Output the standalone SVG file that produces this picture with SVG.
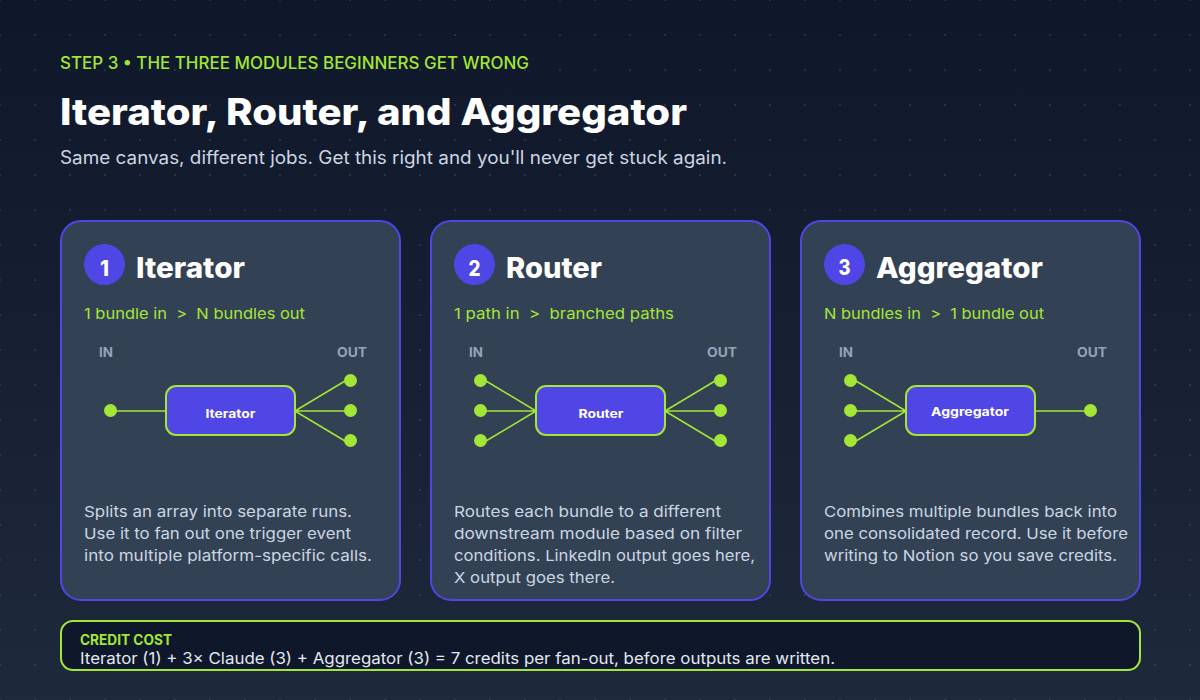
<svg xmlns="http://www.w3.org/2000/svg" width="1200" height="700" viewBox="0 0 1200 700">
<defs>
<linearGradient id="bg" x1="0" y1="0" x2="0" y2="1"><stop offset="0" stop-color="#0f172a"/><stop offset="1" stop-color="#1e293b"/></linearGradient>
<pattern id="grid" width="35" height="35" patternUnits="userSpaceOnUse"><circle cx="0" cy="0" r="1" fill="#94a3b8" fill-opacity=".22"/><circle cx="35" cy="0" r="1" fill="#94a3b8" fill-opacity=".22"/><circle cx="0" cy="35" r="1" fill="#94a3b8" fill-opacity=".22"/><circle cx="35" cy="35" r="1" fill="#94a3b8" fill-opacity=".22"/></pattern>
</defs>
<style>
text{font-family:"Inter","Noto Sans",sans-serif}
.card{fill:#334155;stroke:#4f46e5;stroke-width:2}
.badge{fill:#4f46e5}
.num{font-size:21px;font-weight:800;fill:#fff;text-anchor:middle}
.head{font-size:28px;font-weight:800;fill:#fff}
.sub{font-size:15px;fill:#a3e635;white-space:pre}
.io{font-size:13px;font-weight:700;fill:#94a3b8}
.mod{fill:#4f46e5;stroke:#a3e635;stroke-width:2}
.modt{font-size:12px;font-weight:700;fill:#fff}
.dot{fill:#a3e635}
.desc{font-size:15px;fill:#cbd5e1}
.wire{stroke:#a3e635;stroke-width:1.5;fill:none}
</style>
<rect width="1200" height="700" fill="url(#bg)"/>
<rect width="1200" height="700" fill="url(#grid)"/>
<g id="header">
<text x="60" y="69" font-size="17" font-weight="500" fill="#a3e635" textLength="469" lengthAdjust="spacingAndGlyphs">STEP 3 • THE THREE MODULES BEGINNERS GET WRONG</text>
<text x="60" y="125" font-size="37" font-weight="800" fill="#fff" textLength="627" lengthAdjust="spacingAndGlyphs">Iterator, Router, and Aggregator</text>
<text x="60" y="164" font-size="18" fill="#cbd5e1" textLength="667" lengthAdjust="spacingAndGlyphs">Same canvas, different jobs. Get this right and you'll never get stuck again.</text>
</g>
<g id="card-iterator">
<rect class="card" x="61" y="221" width="339" height="379" rx="20"/>
<circle class="badge" cx="104.500" cy="264.500" r="20.500"/>
<text class="num" x="104.500" y="276" textLength="9" lengthAdjust="spacingAndGlyphs">1</text>
<text class="head" x="136" y="278" textLength="109" lengthAdjust="spacingAndGlyphs">Iterator</text>
<text class="sub" x="84" y="319" textLength="221" lengthAdjust="spacingAndGlyphs">1 bundle in  &gt;  N bundles out</text>
<text class="io" x="99" y="357" textLength="14" lengthAdjust="spacingAndGlyphs">IN</text>
<text class="io" x="337" y="357" textLength="30" lengthAdjust="spacingAndGlyphs">OUT</text>
<rect class="mod" x="166" y="386" width="129" height="49" rx="10"/>
<text class="modt" x="205.500" y="418" textLength="50" lengthAdjust="spacingAndGlyphs">Iterator</text>
<circle class="dot" cx="110.500" cy="410.500" r="6.500"/>
<circle class="dot" cx="350.500" cy="380.500" r="6.500"/>
<circle class="dot" cx="350.500" cy="410.500" r="6.500"/>
<circle class="dot" cx="350.500" cy="440.500" r="6.500"/>
<text class="desc" x="84" y="517" textLength="268" lengthAdjust="spacingAndGlyphs">Splits an array into separate runs.</text>
<text class="desc" x="84" y="539" textLength="267" lengthAdjust="spacingAndGlyphs">Use it to fan out one trigger event</text>
<text class="desc" x="84" y="561" textLength="288" lengthAdjust="spacingAndGlyphs">into multiple platform-specific calls.</text>
</g>
<g id="card-router">
<rect class="card" x="431" y="221" width="339" height="379" rx="20"/>
<circle class="badge" cx="474.500" cy="264.500" r="20.500"/>
<text class="num" x="474.500" y="276" textLength="12" lengthAdjust="spacingAndGlyphs">2</text>
<text class="head" x="506" y="278" textLength="96" lengthAdjust="spacingAndGlyphs">Router</text>
<text class="sub" x="454" y="319" textLength="220" lengthAdjust="spacingAndGlyphs">1 path in  &gt;  branched paths</text>
<text class="io" x="469" y="357" textLength="14" lengthAdjust="spacingAndGlyphs">IN</text>
<text class="io" x="707" y="357" textLength="30" lengthAdjust="spacingAndGlyphs">OUT</text>
<rect class="mod" x="536" y="386" width="129" height="49" rx="10"/>
<text class="modt" x="578.500" y="418" textLength="45" lengthAdjust="spacingAndGlyphs">Router</text>
<circle class="dot" cx="480.500" cy="380.500" r="6.500"/>
<circle class="dot" cx="480.500" cy="410.500" r="6.500"/>
<circle class="dot" cx="480.500" cy="440.500" r="6.500"/>
<circle class="dot" cx="720.500" cy="380.500" r="6.500"/>
<circle class="dot" cx="720.500" cy="410.500" r="6.500"/>
<circle class="dot" cx="720.500" cy="440.500" r="6.500"/>
<text class="desc" x="454" y="517" textLength="267" lengthAdjust="spacingAndGlyphs">Routes each bundle to a different</text>
<text class="desc" x="454" y="539" textLength="288" lengthAdjust="spacingAndGlyphs">downstream module based on filter</text>
<text class="desc" x="454" y="561" textLength="301" lengthAdjust="spacingAndGlyphs">conditions. LinkedIn output goes here,</text>
<text class="desc" x="454" y="583" textLength="161" lengthAdjust="spacingAndGlyphs">X output goes there.</text>
</g>
<g id="card-aggregator">
<rect class="card" x="801" y="221" width="339" height="379" rx="20"/>
<circle class="badge" cx="844.500" cy="264.500" r="20.500"/>
<text class="num" x="844.500" y="275" textLength="12" lengthAdjust="spacingAndGlyphs">3</text>
<text class="head" x="876" y="278" textLength="167" lengthAdjust="spacingAndGlyphs">Aggregator</text>
<text class="sub" x="824" y="319" textLength="220" lengthAdjust="spacingAndGlyphs">N bundles in  &gt;  1 bundle out</text>
<text class="io" x="839" y="357" textLength="14" lengthAdjust="spacingAndGlyphs">IN</text>
<text class="io" x="1077" y="357" textLength="30" lengthAdjust="spacingAndGlyphs">OUT</text>
<rect class="mod" x="906" y="386" width="129" height="49" rx="10"/>
<text class="modt" x="931" y="416" textLength="78" lengthAdjust="spacingAndGlyphs">Aggregator</text>
<circle class="dot" cx="850.500" cy="380.500" r="6.500"/>
<circle class="dot" cx="850.500" cy="410.500" r="6.500"/>
<circle class="dot" cx="850.500" cy="440.500" r="6.500"/>
<circle class="dot" cx="1090.500" cy="410.500" r="6.500"/>
<text class="desc" x="824" y="517" textLength="293" lengthAdjust="spacingAndGlyphs">Combines multiple bundles back into</text>
<text class="desc" x="824" y="539" textLength="304" lengthAdjust="spacingAndGlyphs">one consolidated record. Use it before</text>
<text class="desc" x="824" y="561" textLength="293" lengthAdjust="spacingAndGlyphs">writing to Notion so you save credits.</text>
</g>
<g id="connectors">
<path class="wire" d="M116 411H166M295 411L345 381M295 411H345M295 411L345 441"/>
<path class="wire" d="M486 381L536 411M486 411H536M486 441L536 411M665 411L715 381M665 411H715M665 411L715 441"/>
<path class="wire" d="M856 381L906 411M856 411H906M856 441L906 411M1035 411H1085"/>
</g>
<g id="credit-cost">
<rect x="61" y="621" width="1079" height="49" rx="12" fill="#0f172a" stroke="#a3e635" stroke-width="2"/>
<text x="80" y="645" font-size="14" font-weight="700" fill="#a3e635" textLength="92" lengthAdjust="spacingAndGlyphs">CREDIT COST</text>
<text x="80" y="664" font-size="16" fill="#e2e8f0" textLength="755" lengthAdjust="spacingAndGlyphs">Iterator (1) + 3× Claude (3) + Aggregator (3) = 7 credits per fan-out, before outputs are written.</text>
</g>
</svg>
